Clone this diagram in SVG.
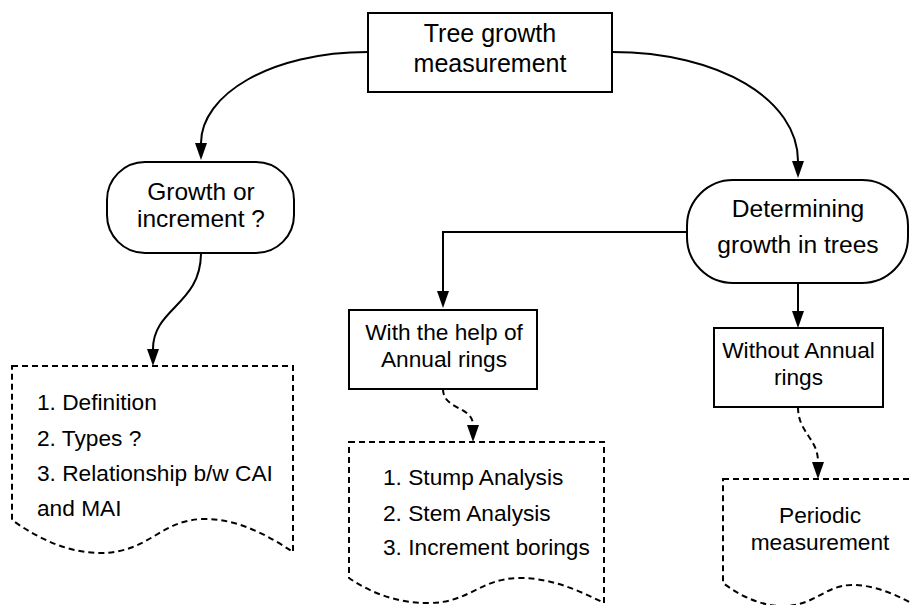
<svg xmlns="http://www.w3.org/2000/svg" width="910" height="605" viewBox="0 0 910 605">
<style>
text{font-family:"Liberation Sans",Arial,sans-serif;fill:#000}
.node{fill:#fff;stroke:#000;stroke-width:2}
.doc{fill:#fff;stroke:#000;stroke-width:2;stroke-dasharray:6 4}
.edge{fill:none;stroke:#000;stroke-width:2}
.dash{stroke-dasharray:6 4}
.c{text-anchor:middle}
.t22{font-size:22.7px}
</style>
<defs>
<marker id="arr" markerUnits="userSpaceOnUse" markerWidth="18" markerHeight="14" refX="0" refY="6" orient="auto">
<path d="M0,0 L17,6 L0,12 Z" fill="#000"/>
</marker>
</defs>
<g id="connectors">
<path class="edge" d="M368,52 C270,52 201,95 201,143" marker-end="url(#arr)"/>
<path class="edge" d="M612,52 C720,52 798,100 798,161" marker-end="url(#arr)"/>
<path class="edge" d="M687,232 H443 V291" marker-end="url(#arr)"/>
<path class="edge" d="M798,283 V311" marker-end="url(#arr)"/>
<path class="edge" d="M201,253 C201,305 153,308 153,349" marker-end="url(#arr)"/>
<path class="edge dash" d="M443,389 C443,410 473,406 473,425" marker-end="url(#arr)"/>
<path class="edge dash" d="M798,407 C798,433 818,438 818,462" marker-end="url(#arr)"/>
</g>
<g id="tree-growth">
<rect class="node" x="368" y="13" width="244" height="79"/>
<text class="c" x="490" y="42" font-size="25">Tree growth</text>
<text class="c" x="490" y="72" font-size="25">measurement</text>
</g>
<g id="growth-or-increment">
<rect class="node" x="107" y="162" width="187" height="91" rx="38" ry="38"/>
<text class="c" x="201" y="200" font-size="24.5">Growth or</text>
<text class="c" x="201" y="227" font-size="24.5">increment ?</text>
</g>
<g id="determining">
<rect class="node" x="687" y="180" width="221" height="103" rx="46" ry="46"/>
<text class="c" x="798" y="217" font-size="24.6">Determining</text>
<text class="c" x="798" y="253" font-size="24.6">growth in trees</text>
</g>
<g id="with-rings">
<rect class="node" x="349" y="310" width="188" height="79"/>
<text class="c t22" x="444" y="340">With the help of</text>
<text class="c t22" x="444" y="367">Annual rings</text>
</g>
<g id="without-rings">
<rect class="node" x="714" y="328" width="169" height="79"/>
<text class="c t22" x="798.5" y="358">Without Annual</text>
<text class="c t22" x="798.5" y="385">rings</text>
</g>
<g id="doc-growth">
<path class="doc" d="M12,366 H293 V552 C270,537 240,519 205,519 C160,519 150,553 100,553 C70,553 40,540 12,520 Z"/>
<text class="t22" x="37" y="410">1. Definition</text>
<text class="t22" x="37" y="445.5">2. Types ?</text>
<text class="t22" x="37" y="481">3. Relationship b/w CAI</text>
<text class="t22" x="37" y="516">and MAI</text>
</g>
<g id="doc-rings">
<path class="doc" d="M349,442 H604 V603 C578,590 551,578 520,578 C480,578 470,603 428,603 C400,603 374,595 349,578 Z"/>
<text class="t22" x="383" y="485">1. Stump Analysis</text>
<text class="t22" x="383" y="520.5">2. Stem Analysis</text>
<text class="t22" x="383" y="555">3. Increment borings</text>
</g>
<g id="doc-periodic">
<path class="doc" d="M723,479 H917 V606 C898,596 877,585 852,585 C825,585 815,606 783,606 C763,606 743,598 723,583 Z"/>
<text class="c t22" x="820" y="523">Periodic</text>
<text class="c t22" x="820" y="550">measurement</text>
</g>
</svg>
